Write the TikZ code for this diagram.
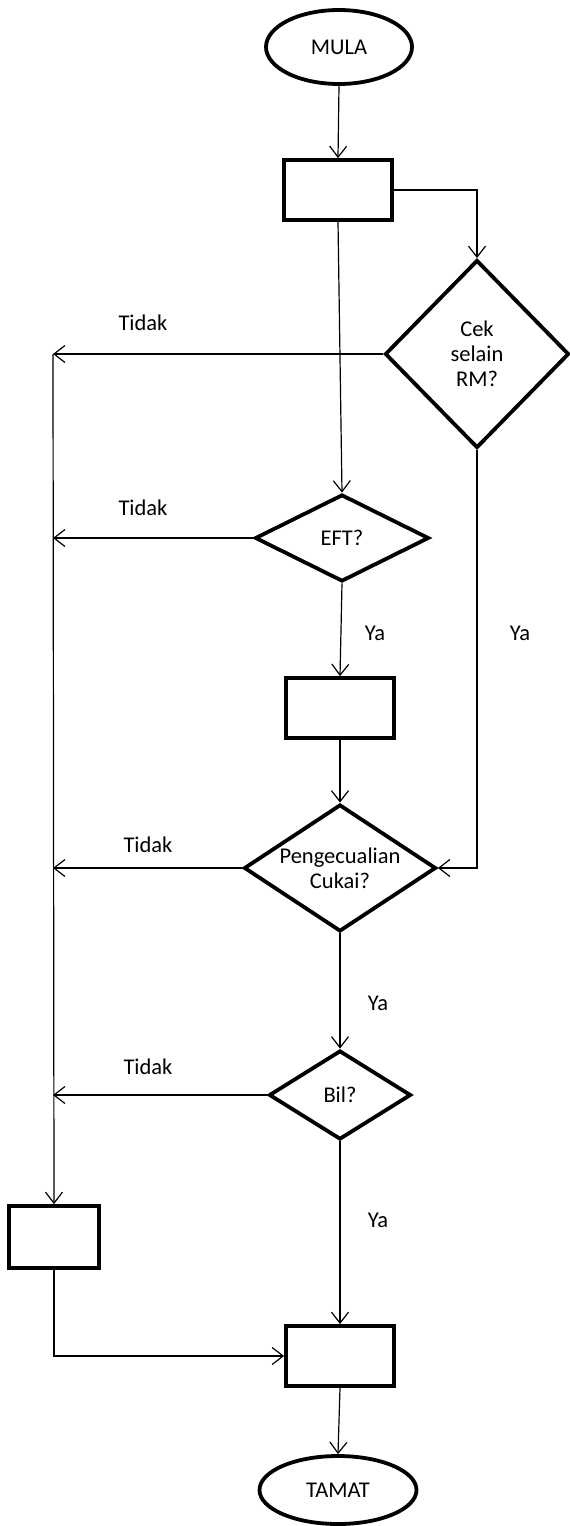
\documentclass[tikz,border=0pt]{standalone}
\usepackage{fontspec}
\setmainfont{Carlito}
\usetikzlibrary{shapes.geometric,arrows.meta}
\begin{document}
\begin{tikzpicture}[x=1pt,y=-1pt,
  font=\fontsize{22.5}{25}\selectfont,
  box/.style={draw,line width=3.8pt,inner sep=0pt},
  term/.style={box,ellipse},
  proc/.style={box,rectangle,minimum width=108pt,minimum height=60pt},
  decision/.style={box,diamond,text width=0pt},
  conn/.style={line width=1.2pt},
  arr/.style={conn,-{Straight Barb[length=11pt,width=17pt,line width=1.2pt]}},
  lbl/.style={inner sep=0pt}]
\useasboundingbox (0,0) rectangle (570,1526);

% shapes
\node[term,minimum width=146pt,minimum height=74pt] (mula) at (339,47) {MULA};
\node[proc] (r1) at (338,190) {};
\node[decision,minimum width=184pt,minimum height=188pt,
  label={[align=center,lbl]center:Cek\\selain\\RM?}] (cek) at (477,354) {};
\node[decision,minimum width=174pt,minimum height=87pt,
  label={[lbl]center:EFT?}] (eft) at (342,538) {};
\node[proc] (r2) at (340,708) {};
\node[decision,minimum width=192pt,minimum height=127pt,
  label={[align=center,lbl]center:Pengecualian\\Cukai?}] (pc) at (340,868) {};
\node[decision,minimum width=142pt,minimum height=89pt,
  label={[lbl]center:Bil?}] (bil) at (340,1095) {};
\node[proc,minimum width=90pt,minimum height=62pt] (r3) at (54,1237) {};
\node[proc] (r4) at (340,1356) {};
\node[term,minimum width=157pt,minimum height=68pt] (tamat) at (338,1490) {TAMAT};

% left rail collecting every "Tidak" branch
\coordinate (rail) at (53,354);

% main flow
\draw[arr] (mula.south) -- (r1.north);
\draw[arr] (r1.east) -| (cek.north);
\draw[arr] (r1.south) -- (eft.north);
\draw[arr] (eft.south) -- (r2.north);
\draw[arr] (r2.south) -- (pc.north);
\draw[arr] (cek.south) |- (pc.east);
\draw[arr] (pc.south) -- (bil.north);
\draw[arr] (bil.south) -- (r4.north);
\draw[arr] (r4.south) -- (tamat.north);

% "Tidak" branches
\draw[arr] (cek.west) -- (rail);
\draw[arr] (eft.west) -- (eft.west -| rail);
\draw[arr] (pc.west) -- (pc.west -| rail);
\draw[arr] (bil.west) -- (bil.west -| rail);
\draw[arr] (rail) -- (r3.north);
\draw[arr] (r3.south) |- (r4.west);

% branch labels
\node[lbl] (t1) at (143,323) {Tidak};
\node[lbl] (t2) at (143,508) {Tidak};
\node[lbl] (t3) at (148,845) {Tidak};
\node[lbl] (t4) at (148,1067) {Tidak};
\node[lbl] (y1) at (375,633) {Ya};
\node[lbl] (y2) at (520,633) {Ya};
\node[lbl] (y3) at (378,1003) {Ya};
\node[lbl] (y4) at (378,1220) {Ya};
\end{tikzpicture}
\end{document}
